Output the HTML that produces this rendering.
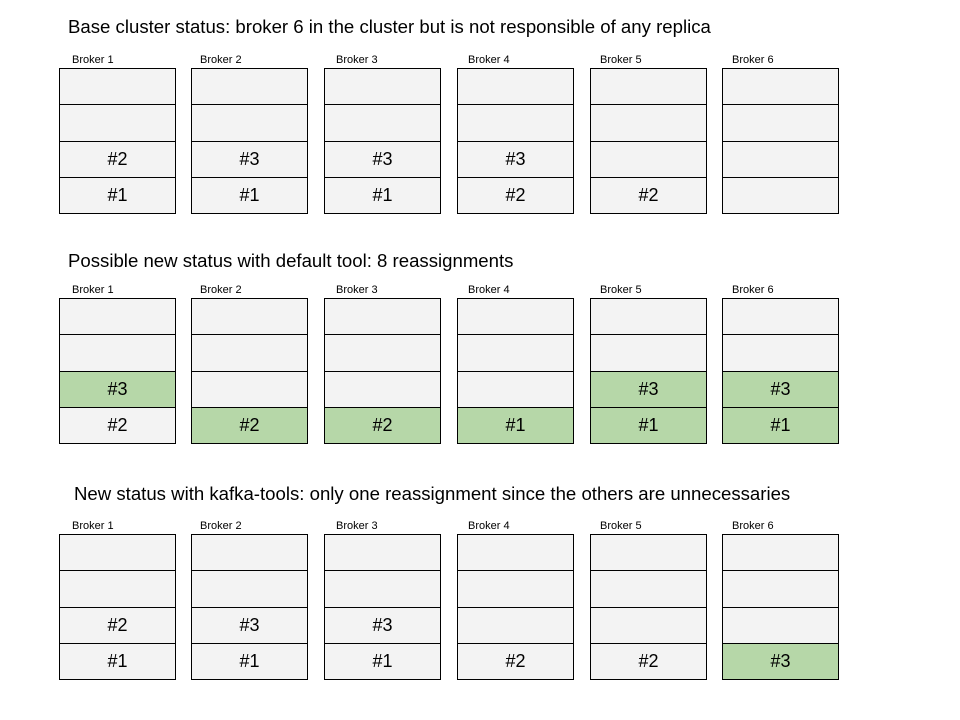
<!DOCTYPE html>
<html><head><meta charset="utf-8"><style>
body{margin:0;width:960px;height:720px;background:#fff;font-family:"Liberation Sans",Arial,sans-serif;position:relative;overflow:hidden}
.t{position:absolute;font-size:18.6px;color:#000;white-space:nowrap}
.l{position:absolute;font-size:11px;color:#000}
.c{position:absolute;box-sizing:border-box;border:1px solid #000;background:#f3f3f3;font-size:18px;display:flex;align-items:center;justify-content:center}
.g{background:#b6d7a8}
</style></head><body>
<div class="t" style="left:68px;top:16px">Base cluster status: broker 6 in the cluster but is not responsible of any replica</div>
<div class="t" style="left:68px;top:250px">Possible new status with default tool: 8 reassignments</div>
<div class="t" style="left:74px;top:483px">New status with kafka-tools: only one reassignment since the others are unnecessaries</div>
<script>
const brokers=["Broker 1","Broker 2","Broker 3","Broker 4","Broker 5","Broker 6"];
const section1=[["#1","#2"],["#1","#3"],["#1","#3"],["#2","#3"],["#2",""],["",""]];
const section2=[["#2","*#3"],["*#2",""],["*#2",""],["*#1",""],["*#1","*#3"],["*#1","*#3"]];
const section3=[["#1","#2"],["#1","#3"],["#1","#3"],["#2",""],["#2",""],["*#3",""]];
const sections=[section1,section2,section3];
const tops=[68,298,534];
const xs=[59,191,324,457,590,722];
const labOff=[13,9,12,11,10,10];
const W=117,H=36.25;
sections.forEach((sec,si)=>{
 sec.forEach((b,bi)=>{
  const lab=document.createElement('div');lab.className='l';
  
  
  lab.style.left=(xs[bi]+labOff[bi])+'px';lab.style.top=(tops[si]-14)+'px';lab.textContent=brokers[bi];
  document.body.appendChild(lab);
  for(let r=0;r<4;r++){
   const slot=3-r; let v=slot<2?b[slot]:"";
   const c=document.createElement('div');c.className='c';
   
   
   if(v.startsWith('*')){c.classList.add('g');v=v.slice(1);}
   c.textContent=v;
   const y0=Math.round(tops[si]+r*H), y1=Math.round(tops[si]+(r+1)*H);
   c.style.left=xs[bi]+'px';c.style.top=y0+'px';
   c.style.width=W+'px';c.style.height=(y1-y0+1)+'px';
   document.body.appendChild(c);
  }
 });
});
</script>
</body></html>
